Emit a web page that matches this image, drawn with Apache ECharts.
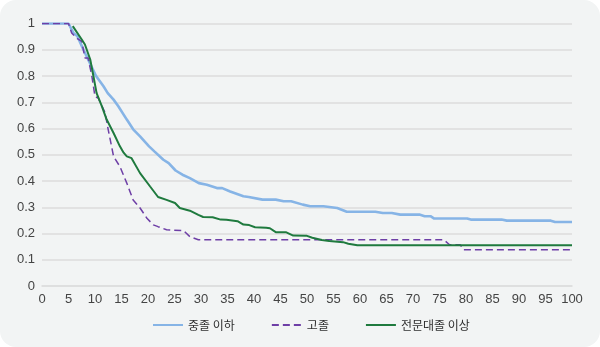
<!DOCTYPE html>
<html>
<head>
<meta charset="utf-8">
<script src="https://cdn.jsdelivr.net/npm/echarts@6/dist/echarts.min.js"></script>
<style>
  html, body { margin: 0; padding: 0; background: #ffffff; }
  #panel {
    position: absolute; left: 0; top: 0; width: 600px; height: 347px;
    background: #f2f4f4; border-radius: 16px; overflow: hidden;
  }
  #chart { width: 600px; height: 347px; }
</style>
</head>
<body>
<div id="panel"><div id="chart"></div></div>
<script>
// Series names (legend order)
const seriesNames = ['중졸 이하', '고졸', '전문대졸 이상'];

// Survival curves as [x, proportion] pairs
const middleOrLess = [
  [0, 1], [5, 1], [5.9, 0.965], [6.7, 0.951], [7.6, 0.91], [8.7, 0.863], [10.2, 0.80],
  [11.6, 0.761], [12.4, 0.735], [13.5, 0.71], [14.4, 0.685], [16, 0.634], [17.2, 0.597],
  [18.5, 0.57], [20.2, 0.532], [21.2, 0.513], [22.9, 0.481], [23.9, 0.468], [25.2, 0.440],
  [26.5, 0.424], [27.9, 0.411], [29.6, 0.392], [31.1, 0.386], [33, 0.373], [34, 0.373],
  [35.5, 0.36], [38, 0.342], [39, 0.339], [41.6, 0.329], [44.1, 0.329], [45.6, 0.323],
  [47, 0.323], [49.2, 0.31], [50.6, 0.304], [53.1, 0.304], [55.7, 0.297], [57.5, 0.283],
  [62.9, 0.283], [64.3, 0.278], [66, 0.278], [67.6, 0.272], [71.2, 0.272], [72.2, 0.266],
  [73.3, 0.266], [74, 0.257], [80.2, 0.257], [80.9, 0.253], [86.7, 0.253], [87.7, 0.249],
  [96, 0.249], [96.8, 0.244], [100, 0.244]
];

const highSchool = [
  [0, 1], [5, 1], [5.6, 0.964], [6.5, 0.945], [7.5, 0.932], [8.1, 0.869], [8.7, 0.869],
  [9.4, 0.80], [10, 0.722], [10.6, 0.716], [11.9, 0.66], [12.5, 0.595], [13.5, 0.494],
  [14.7, 0.455], [16, 0.392], [17.2, 0.328], [18.5, 0.297], [19.8, 0.258], [21, 0.233],
  [21.9, 0.226], [23.5, 0.214], [26.7, 0.211], [27.9, 0.188], [29.5, 0.176],
  [75.8, 0.176], [76.9, 0.157], [78.9, 0.157], [79.6, 0.138], [100, 0.138]
];

const collegeOrMore = [
  [5.8, 0.99], [7.5, 0.939], [8.1, 0.92], [9.1, 0.863], [9.7, 0.80], [10.3, 0.735],
  [11.3, 0.684], [12.2, 0.634], [13.5, 0.583], [14.7, 0.532], [15.4, 0.508], [16, 0.494],
  [16.9, 0.487], [18.5, 0.43], [20.4, 0.379], [21.9, 0.339], [23.5, 0.328], [25.1, 0.316],
  [26, 0.297], [27.9, 0.287], [29.5, 0.271], [30.4, 0.263], [32.2, 0.262], [33.7, 0.253],
  [34.8, 0.252], [36.9, 0.247], [38, 0.234], [39.1, 0.232], [40.2, 0.224], [42.3, 0.222],
  [43, 0.22], [44.1, 0.205], [46, 0.205], [47.4, 0.192], [50, 0.191], [51, 0.184],
  [52.8, 0.175], [54.2, 0.171], [56.8, 0.167], [57.8, 0.161], [59.5, 0.155], [100, 0.155]
];

const seriesData = [middleOrLess, highSchool, collegeOrMore];
const seriesColors = ['#86b4e6', '#6e3fa6', '#1f7a3e'];

const chart = echarts.init(document.getElementById('chart'), null, { renderer: 'canvas' });

const numFont = "'Liberation Sans Narrow', 'Liberation Sans', Arial, sans-serif";

chart.setOption({
  backgroundColor: 'transparent',
  animation: false,
  grid: { left: 42, right: 28, top: 23.5, bottom: 61, containLabel: false },
  legend: {
    left: 147,
    top: 314,
    itemWidth: 30,
    itemHeight: 12,
    itemGap: 36,
    data: seriesNames,
    // line-only legend markers (hide the point symbol)
    itemStyle: { opacity: 0 },
    textStyle: { fontFamily: "'Noto Sans CJK KR', sans-serif", fontSize: 12, color: '#2e2e2e' }
  },
  xAxis: {
    type: 'value',
    min: 0,
    max: 100,
    interval: 5,
    axisLine: { show: true, lineStyle: { color: '#dcdddd', width: 1.5 } },
    axisTick: { show: false },
    splitLine: { show: false },
    axisLabel: { fontFamily: numFont, fontSize: 13, color: '#444444', margin: 7 }
  },
  yAxis: {
    type: 'value',
    min: 0,
    max: 1,
    interval: 0.1,
    axisLine: { show: false },
    axisTick: { show: false },
    splitLine: { show: true, lineStyle: { color: '#dcdddd', width: 1.5 } },
    axisLabel: { fontFamily: numFont, fontSize: 13, color: '#444444', margin: 7 }
  },
  series: seriesNames.map((name, i) => ({
    name: name,
    type: 'line',
    data: seriesData[i],
    showSymbol: false,
    symbol: 'none',
    smooth: false,
    z: i === 1 ? 3 : (i === 2 ? 4 : 2),
    lineStyle: {
      color: seriesColors[i],
      width: i === 0 ? 2.6 : (i === 1 ? 1.5 : 2),
      type: i === 1 ? [7, 4] : 'solid'
    },
    itemStyle: { color: seriesColors[i] }
  }))
});
</script>
</body>
</html>
